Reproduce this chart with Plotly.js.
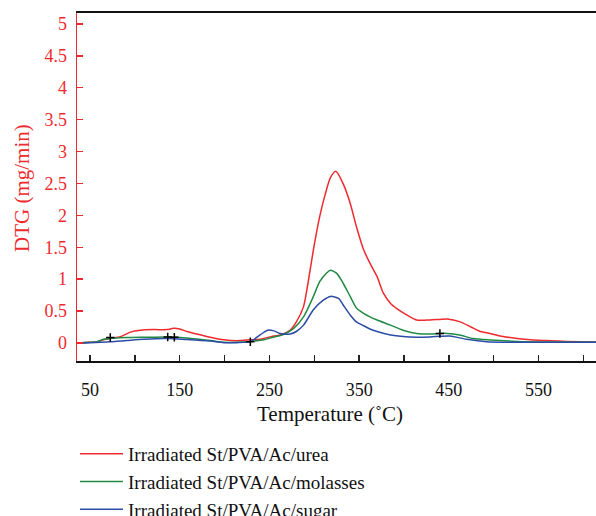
<!DOCTYPE html>
<html>
<head>
<meta charset="utf-8">
<script src="https://cdn.plot.ly/plotly-3.0.1.min.js"></script>
<style>html,body{margin:0;padding:0;background:#fff;}#chart{width:596px;height:516px;}</style>
</head>
<body>
<div id="chart"></div>
<script>
// Temperature (°C) and DTG (mg/min)
var ureaT = [35,50,58,65,73,84,95,106,121,136,143,150,158,169,184,199,214,229,240,252,262,273,280,288,293,299,306,312,318,324,332,340,347,355,362,370,377,385,392,403,414,429,440,448,462,474,485,496,507,526,544,563,581,614];
var ureaDTG = [0,0.01,0.02,0.05,0.075,0.1,0.17,0.2,0.21,0.21,0.23,0.22,0.18,0.14,0.09,0.05,0.035,0.05,0.06,0.1,0.125,0.2,0.33,0.57,0.94,1.46,1.98,2.32,2.59,2.69,2.5,2.19,1.82,1.46,1.25,1.04,0.78,0.62,0.54,0.44,0.36,0.36,0.37,0.375,0.335,0.255,0.18,0.15,0.11,0.07,0.047,0.035,0.025,0.015];

var molassesT = [35,50,58,65,73,91,110,136,158,184,199,214,229,244,254,265,277,288,299,306,314,318,325,332,340,347,355,362,370,385,399,414,429,440,448,462,477,496,526,560,614];
var molassesDTG = [0,0.01,0.02,0.06,0.07,0.085,0.09,0.095,0.08,0.04,0.01,0.01,0.025,0.05,0.09,0.13,0.23,0.41,0.73,0.96,1.1,1.14,1.09,0.94,0.73,0.55,0.465,0.41,0.36,0.28,0.2,0.15,0.14,0.15,0.15,0.125,0.07,0.047,0.025,0.015,0.01];

var sugarT = [35,50,73,91,110,136,158,184,199,214,229,240,248,255,262,273,280,288,299,310,318,327,332,340,347,355,362,370,385,399,414,429,440,451,470,492,530,614];
var sugarDTG = [0,0.005,0.02,0.04,0.06,0.07,0.055,0.03,0.005,0.005,0.025,0.13,0.2,0.19,0.15,0.14,0.18,0.28,0.52,0.67,0.73,0.7,0.6,0.44,0.33,0.27,0.22,0.18,0.125,0.1,0.09,0.095,0.105,0.11,0.058,0.02,0.012,0.01];

var markT = [72.6,136.6,144,228.7,440];
var markDTG = [0.085,0.095,0.09,0.02,0.15];

var seriesNames = ['Irradiated St/PVA/Ac/urea','Irradiated St/PVA/Ac/molasses','Irradiated St/PVA/Ac/sugar'];
var xTickVals = [50,100,150,200,250,300,350,400,450,500,550,600];
var xTickText = ['50','','150','','250','','350','','450','','550',''];
var yTickVals = [0,0.5,1,1.5,2,2.5,3,3.5,4,4.5,5];
var yTickText = ['0','0.5','1','1.5','2','2.5','3','3.5','4','4.5','5'];
var xTitle = 'Temperature (˚C)';
var yTitle = 'DTG (mg/min)';

var serif = 'Liberation Serif, Times New Roman, serif';
var colors = ['#ee2a2e','#238a45','#2a4ca6'];

function curve(x, y, name, color) {
  return {x: x, y: y, name: name, type: 'scatter', mode: 'lines',
    line: {color: color, width: 1.5, shape: 'spline', smoothing: 0.7}};
}

var data = [
  curve(ureaT, ureaDTG, seriesNames[0], colors[0]),
  curve(molassesT, molassesDTG, seriesNames[1], colors[1]),
  curve(sugarT, sugarDTG, seriesNames[2], colors[2]),
  {x: markT, y: markDTG, type: 'scatter', mode: 'markers', showlegend: false, hoverinfo: 'skip',
   marker: {symbol: 'cross-thin', size: 6, color: '#000', line: {color: '#000', width: 1.5}}}
];

var layout = {
  width: 596, height: 516,
  margin: {l: 77, r: 0, t: 13, b: 155, pad: 0, autoexpand: false},
  paper_bgcolor: '#fff', plot_bgcolor: '#fff',
  font: {family: serif, size: 18, color: '#111'},
  showlegend: true,
  legend: {
    xref: 'container', yref: 'container',
    x: 75/596, y: 1 - 435/516, xanchor: 'left', yanchor: 'top',
    bgcolor: 'rgba(0,0,0,0)', borderwidth: 0,
    font: {family: serif, size: 19, color: '#111'},
    itemwidth: 43, tracegroupgap: 0
  },
  xaxis: {
    range: [35.5, 614],
    tickmode: 'array', tickvals: xTickVals, ticktext: xTickText,
    ticks: 'inside', ticklen: 6, tickwidth: 1.5, tickcolor: '#222',
    showline: true, linecolor: '#111', linewidth: 2, mirror: true,
    showgrid: false, zeroline: false,
    ticklabelstandoff: 11,
    tickfont: {family: serif, size: 18, color: '#111'}
  },
  yaxis: {
    range: [-0.282, 5.17],
    tickmode: 'array', tickvals: yTickVals, ticktext: yTickText,
    ticks: 'inside', ticklen: 6, tickwidth: 1.5, tickcolor: '#ee2a2e',
    showline: true, linecolor: '#ee2a2e', linewidth: 1.5, mirror: false,
    showgrid: false, zeroline: false,
    ticklabelstandoff: 5,
    tickfont: {family: serif, size: 18, color: '#ee2a2e'}
  },
  annotations: [
    {text: xTitle, xref: 'paper', yref: 'paper', x: (330 - 77) / 519, y: (361 - 414) / 348,
     xanchor: 'center', yanchor: 'middle', showarrow: false,
     font: {family: serif, size: 21, color: '#111'}},
    {text: yTitle, xref: 'paper', yref: 'paper', x: (22 - 77) / 519, y: (361 - 188) / 348,
     xanchor: 'center', yanchor: 'middle', showarrow: false, textangle: -90,
     font: {family: serif, size: 21, color: '#ee2a2e'}}
  ]
};

Plotly.newPlot('chart', data, layout, {displayModeBar: false, staticPlot: true});
</script>
</body>
</html>
